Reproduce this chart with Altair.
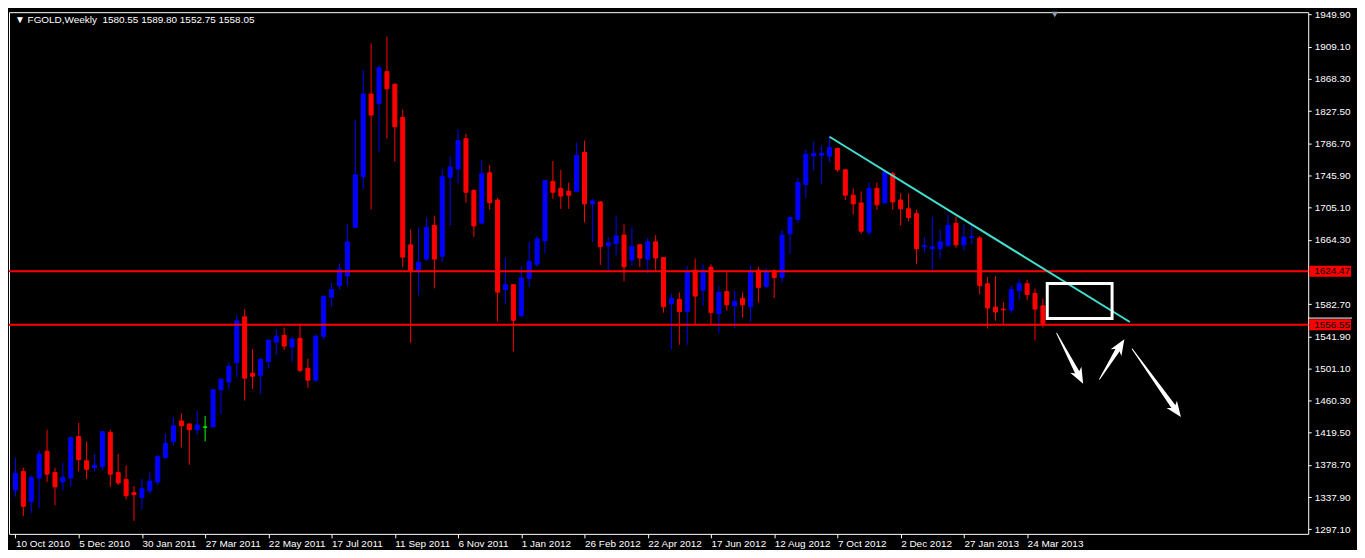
import math
import altair as alt
import pandas as pd

# ---------------- data ----------------
date_labels = ["10 Oct 2010", "5 Dec 2010", "30 Jan 2011", "27 Mar 2011", "22 May 2011",
               "17 Jul 2011", "11 Sep 2011", "6 Nov 2011", "1 Jan 2012", "26 Feb 2012",
               "22 Apr 2012", "17 Jun 2012", "12 Aug 2012", "7 Oct 2012", "2 Dec 2012",
               "27 Jan 2013", "24 Mar 2013"]
date_tick_pos = [0, 8, 16, 24, 32, 40, 48, 56, 64, 72, 80, 88, 96, 104, 112, 120, 128]

y_ticks = [1297.10, 1337.90, 1378.70, 1419.50, 1460.30, 1501.10, 1541.90, 1582.70,
           1664.30, 1705.10, 1745.90, 1786.70, 1827.50, 1868.30, 1909.10, 1949.90]

opens = [1346.8, 1370.3, 1332.4, 1362.1, 1396.2, 1369.0, 1357.1, 1362.1, 1414.7, 1383.9,
         1375.6, 1376.9, 1419.7, 1369.0, 1360.4, 1343.5, 1337.4, 1346.0, 1357.1, 1388.0,
         1408.6, 1434.5, 1430.8, 1423.4, 1426.7, 1427.1, 1474.0, 1483.9, 1508.6, 1566.6,
         1495.0, 1492.5, 1509.8, 1534.5, 1543.1, 1528.3, 1539.4, 1501.2, 1486.3, 1541.9,
         1591.3, 1606.0, 1618.4, 1680.1, 1744.3, 1849.2, 1837.3, 1877.6, 1861.6, 1819.6,
         1657.9, 1624.6, 1639.8, 1682.6, 1643.5, 1743.5, 1754.2, 1792.5, 1727.0, 1685.5,
         1749.2, 1714.7, 1601.2, 1607.3, 1568.2, 1615.2, 1633.3, 1662.9, 1738.2, 1729.6,
         1725.9, 1725.9, 1775.2, 1709.8, 1712.3, 1656.7, 1659.6, 1670.3, 1638.6, 1658.0,
         1639.8, 1661.7, 1641.9, 1583.1, 1588.8, 1573.2, 1625.8, 1600.3, 1629.6, 1570.7,
         1598.7, 1580.6, 1590.0, 1579.3, 1625.8, 1605.3, 1624.6, 1616.4, 1671.9, 1690.5,
         1734.5, 1770.7, 1771.5, 1770.3, 1780.2, 1753.0, 1720.9, 1711.0, 1674.0, 1729.6,
         1711.0, 1748.1, 1714.7, 1703.6, 1697.5, 1655.5, 1653.0, 1653.0, 1656.7, 1685.1,
         1657.9, 1667.0, 1666.6, 1608.5, 1578.9, 1576.4, 1575.2, 1599.9, 1608.5, 1596.2,
         1580.55]
highs = [1388.0, 1375.2, 1365.3, 1397.4, 1423.4, 1375.2, 1381.4, 1414.7, 1432.0, 1408.6,
         1392.5, 1420.9, 1423.4, 1392.5, 1378.1, 1351.8, 1360.8, 1369.0, 1391.3, 1418.4,
         1439.4, 1444.4, 1430.8, 1447.2, 1440.7, 1475.2, 1487.6, 1508.6, 1569.1, 1576.5,
         1525.8, 1514.7, 1538.2, 1550.5, 1553.0, 1541.9, 1557.9, 1513.5, 1544.4, 1593.7,
         1609.8, 1634.4, 1683.8, 1815.9, 1879.3, 1913.4, 1885.1, 1922.1, 1862.8, 1829.5,
         1677.6, 1680.1, 1692.5, 1694.9, 1754.2, 1770.2, 1804.8, 1798.6, 1728.3, 1765.3,
         1759.1, 1717.2, 1641.9, 1607.3, 1630.8, 1661.7, 1669.1, 1739.4, 1764.1, 1753.0,
         1737.0, 1787.6, 1790.1, 1716.0, 1713.5, 1667.8, 1695.0, 1683.9, 1680.2, 1658.0,
         1666.6, 1670.3, 1641.9, 1596.2, 1597.5, 1630.8, 1640.7, 1633.3, 1633.3, 1606.1,
         1622.6, 1599.9, 1597.5, 1632.0, 1629.6, 1628.3, 1627.1, 1676.5, 1693.8, 1743.1,
         1778.9, 1788.8, 1783.9, 1795.0, 1781.4, 1754.2, 1729.6, 1725.8, 1737.0, 1737.0,
         1751.8, 1750.5, 1723.4, 1723.4, 1702.4, 1667.8, 1693.8, 1677.7, 1696.2, 1693.8,
         1683.9, 1683.8, 1669.0, 1617.2, 1618.4, 1585.1, 1606.1, 1614.7, 1613.5, 1602.4,
         1589.80]
lows = [1338.6, 1313.9, 1317.6, 1323.8, 1357.1, 1327.5, 1346.0, 1350.9, 1370.7, 1360.8,
        1370.7, 1371.9, 1350.9, 1353.4, 1334.9, 1307.7, 1322.5, 1342.3, 1353.4, 1386.0,
        1403.6, 1401.2, 1378.9, 1417.2, 1408.6, 1427.1, 1443.1, 1475.2, 1490.0, 1460.4,
        1475.2, 1469.1, 1501.2, 1518.4, 1524.6, 1509.8, 1496.2, 1476.5, 1483.9, 1538.2,
        1578.9, 1601.5, 1606.0, 1679.3, 1728.7, 1702.7, 1775.6, 1792.9, 1763.2, 1629.9,
        1533.6, 1593.7, 1637.3, 1602.7, 1636.1, 1681.8, 1736.1, 1711.4, 1668.2, 1684.2,
        1702.7, 1560.8, 1583.1, 1522.6, 1565.8, 1604.0, 1630.0, 1647.3, 1716.4, 1703.6,
        1703.6, 1724.6, 1686.4, 1661.7, 1632.4, 1625.0, 1644.8, 1611.5, 1631.2, 1630.0,
        1621.3, 1625.0, 1571.9, 1525.0, 1531.2, 1531.2, 1557.1, 1580.6, 1557.1, 1546.0,
        1574.4, 1552.2, 1565.8, 1560.8, 1584.3, 1602.8, 1590.5, 1610.2, 1646.0, 1685.5,
        1717.2, 1751.8, 1735.7, 1762.9, 1750.5, 1714.7, 1696.2, 1671.5, 1670.3, 1702.4,
        1711.0, 1702.4, 1682.6, 1687.6, 1633.3, 1648.1, 1624.6, 1640.7, 1656.7, 1654.2,
        1650.5, 1659.2, 1595.0, 1551.7, 1561.6, 1557.9, 1571.5, 1587.6, 1587.6, 1536.9,
        1552.75]
closes = [1368.2, 1326.2, 1362.9, 1392.5, 1367.0, 1350.9, 1362.9, 1413.5, 1385.5, 1373.2,
          1378.1, 1420.9, 1367.0, 1355.9, 1339.8, 1341.1, 1348.5, 1358.3, 1389.2, 1406.1,
          1428.3, 1428.3, 1423.4, 1429.5, 1426.7, 1474.0, 1487.6, 1503.6, 1561.6, 1488.8,
          1491.3, 1512.3, 1537.0, 1541.9, 1529.5, 1538.2, 1498.7, 1486.3, 1541.9, 1592.5,
          1601.2, 1627.0, 1661.6, 1746.8, 1849.2, 1822.5, 1882.6, 1855.8, 1807.7, 1642.3,
          1624.6, 1635.7, 1680.1, 1639.8, 1744.3, 1756.7, 1790.0, 1724.6, 1681.8, 1748.0,
          1711.4, 1597.9, 1607.3, 1562.1, 1616.0, 1637.0, 1665.4, 1739.4, 1724.6, 1719.7,
          1720.9, 1771.5, 1709.8, 1713.5, 1655.5, 1660.4, 1669.1, 1630.0, 1655.5, 1641.1,
          1661.7, 1641.1, 1579.3, 1590.0, 1573.2, 1623.4, 1592.9, 1625.8, 1571.9, 1597.5,
          1581.8, 1586.3, 1581.8, 1624.6, 1604.0, 1623.4, 1616.4, 1670.3, 1692.5, 1737.0,
          1772.8, 1774.0, 1774.0, 1781.4, 1753.0, 1720.9, 1709.8, 1675.2, 1729.6, 1708.6,
          1750.5, 1712.3, 1703.6, 1692.5, 1653.0, 1656.7, 1655.5, 1661.7, 1682.6, 1657.9,
          1667.8, 1668.2, 1606.1, 1577.7, 1572.7, 1575.6, 1601.1, 1608.5, 1595.0, 1576.4,
          1558.05]

levels = [1624.47, 1556.55]
level_labels = ["1624.47", "1556.55"]
bid_marker = [1565.0]

trend_x = [103.0, 141.0]
trend_y = [1795.0, 1560.0]

box_x = [130.55]
box_x2 = [138.75]
box_y = [1564.5]
box_y2 = [1608.9]

arrow_tail_x = [131.75, 137.18, 141.30]
arrow_tail_y = [1545.6, 1487.6, 1525.8]
arrow_tip_x = [135.09, 140.30, 147.46]
arrow_tip_y = [1481.8, 1538.2, 1439.4]

shift_marker_x = [131.5]
shift_marker_y = [1950.0]

header = "\u25bc FGOLD,Weekly\u00a0\u00a01580.55 1589.80 1552.75 1558.05"

# ---------------- layout / style ----------------
W, H = 1305, 524
X_MIN = -0.1875
X_MAX = X_MIN + W / 8.0
Y_MIN, Y_MAX = 1291.3, 1953.0
FONT = "Liberation Sans"
BLUE, RED, DOJI = "#0000FF", "#FF0000", "#00FF00"

idx = list(range(len(opens)))
colors = [BLUE if c > o else (RED if c < o else DOJI) for o, c in zip(opens, closes)]
candles = pd.DataFrame({"i": idx, "o": opens, "h": highs, "l": lows, "c": closes, "col": colors})

label_expr = "[" + ",".join("'%s'" % s for s in date_labels) + "][round(datum.value / 8)]"

xs = alt.Scale(domain=[X_MIN, X_MAX], nice=False, zero=False)
ys = alt.Scale(domain=[Y_MIN, Y_MAX], nice=False, zero=False)

x_axis = alt.Axis(values=date_tick_pos, labelExpr=label_expr, title=None, grid=False,
                  domain=False, tickColor="white", tickSize=4, labelColor="white",
                  labelAlign="left", labelPadding=1, labelFont=FONT, labelFontSize=10,
                  labelOverlap=False, labelFlush=False)
y_axis = alt.Axis(values=y_ticks, format=".2f", orient="right", title=None, grid=False,
                  domain=False, tickColor="white", tickSize=3, labelColor="white",
                  labelPadding=3, labelFont=FONT, labelFontSize=10, labelOverlap=False,
                  labelFlush=False, labelBound=False)


def X(field):
    return alt.X(field, scale=xs, axis=x_axis)


def Y(field):
    return alt.Y(field, scale=ys, axis=y_axis)


base = alt.Chart(candles)

wicks = base.mark_rule(strokeWidth=1, clip=True).encode(
    x=X("i:Q"),
    y=Y("l:Q"),
    y2="h:Q",
    color=alt.Color("col:N", scale=None),
)
bodies = base.mark_bar(size=4, strokeWidth=1, clip=True).encode(
    x=X("i:Q"),
    y=Y("o:Q"),
    y2="c:Q",
    color=alt.Color("col:N", scale=None),
    stroke=alt.Stroke("col:N", scale=None),
)

lv = pd.DataFrame({"level": levels, "lab": level_labels})
level_lines = alt.Chart(lv).mark_rule(color=RED, strokeWidth=2).encode(
    y=Y("level:Q")
)
level_tags = alt.Chart(lv).mark_rule(color=RED, strokeWidth=11, clip=False).encode(
    x=alt.value(W + 1), x2=alt.value(W + 43), y=Y("level:Q")
)
level_text = alt.Chart(lv).mark_text(align="left", baseline="middle", color="black",
                                     font=FONT, fontSize=10, clip=False).encode(
    x=alt.value(W + 6), y=Y("level:Q"), text="lab:N"
)
bid = alt.Chart(pd.DataFrame({"p": bid_marker})).mark_rule(color="white", strokeWidth=1).encode(
    x=alt.value(W), x2=alt.value(W + 44), y=Y("p:Q")
)

trend = alt.Chart(pd.DataFrame({"x": trend_x, "y": trend_y})).mark_line(
    color="#40E0D0", strokeWidth=2).encode(
    x=X("x:Q"), y=Y("y:Q")
)

box = alt.Chart(pd.DataFrame({"x": box_x, "x2": box_x2, "y": box_y, "y2": box_y2})).mark_rect(
    fillOpacity=0, stroke="white", strokeWidth=3).encode(
    x=X("x:Q"), x2="x2:Q", y=Y("y:Q"), y2="y2:Q"
)

# arrows: tapered shaft (trail) + notched head rotated along the shaft
px_x = W / (X_MAX - X_MIN)
px_y = H / (Y_MAX - Y_MIN)
trail_rows, head_rows = [], []
for k in range(len(arrow_tail_x)):
    tx, ty = arrow_tail_x[k], arrow_tail_y[k]
    hx, hy = arrow_tip_x[k], arrow_tip_y[k]
    dx = (hx - tx) * px_x
    dy = -(hy - ty) * px_y
    length = math.hypot(dx, dy)
    f = 1.0 - 10.0 / length
    trail_rows.append({"a": k, "ord": 0, "x": tx, "y": ty, "w": 1.0})
    trail_rows.append({"a": k, "ord": 1, "x": tx + f * (hx - tx), "y": ty + f * (hy - ty), "w": 5.0})
    ang = math.degrees(math.atan2(dx, -dy)) % 360
    head_rows.append({"x": hx, "y": hy, "ang": ang})

shafts = alt.Chart(pd.DataFrame(trail_rows)).mark_trail(color="white").encode(
    x=X("x:Q"), y=Y("y:Q"),
    size=alt.Size("w:Q", scale=None, legend=None),
    detail="a:N", order="ord:Q"
)
head_path = "M0,0L0.85,2.1L0,1.5L-0.85,2.1Z"
heads = alt.Chart(pd.DataFrame(head_rows)).mark_point(
    shape=head_path, filled=True, color="white", size=225, opacity=1, strokeWidth=0).encode(
    x=X("x:Q"), y=Y("y:Q"),
    angle=alt.Angle("ang:Q", scale=None)
)

shift_marker = alt.Chart(pd.DataFrame({"x": shift_marker_x, "y": shift_marker_y})).mark_point(
    shape="triangle-down", filled=True, color="#8f9bb0", size=40, opacity=1).encode(
    x=X("x:Q"), y=Y("y:Q")
)

head_text = alt.Chart(pd.DataFrame({"t": [header]})).mark_text(
    align="left", baseline="middle", color="white", font=FONT, fontSize=10).encode(
    x=alt.value(6), y=alt.value(8), text="t:N"
)

chart = alt.layer(
    wicks, bodies, level_lines, trend, box, shafts, heads, shift_marker,
    level_tags, level_text, bid, head_text
).properties(
    width=W, height=H, background="black", padding=0
).configure_view(
    stroke="white", strokeWidth=1, fill="black"
).configure_axis(
    labelOverlap=False
)

chart.save("out.html", embed_options={"renderer": "svg", "actions": False})
